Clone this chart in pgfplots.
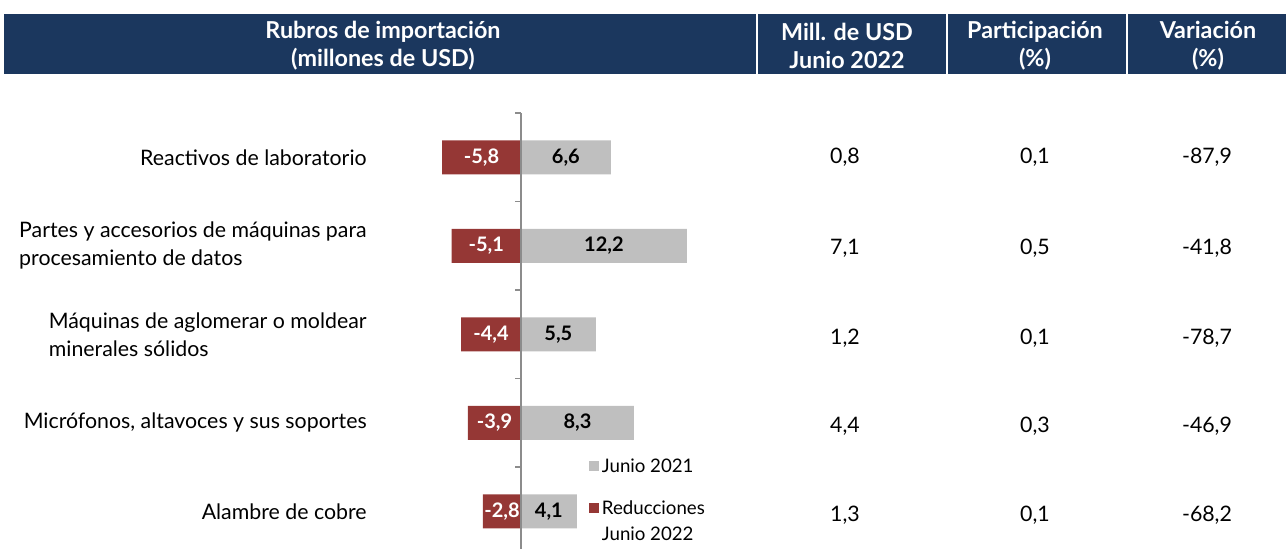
\documentclass[border=0pt]{standalone}
\usepackage{pgfplots}
\pgfplotsset{compat=1.18}
\usepackage{fontspec}
\setmainfont{Lato}
\definecolor{navy}{HTML}{1B375E}
\definecolor{barred}{HTML}{953735}
\definecolor{bargray}{HTML}{BFBFBF}
\definecolor{axgray}{HTML}{8C8C8C}
\newcommand{\txt}{\fontsize{16}{21}\selectfont}
\newcommand{\hdr}{\fontsize{17.5}{21}\selectfont\bfseries}
\begin{document}
\begin{tikzpicture}
\path[use as bounding box] (0,0) rectangle (964.5pt,412.5pt);
\begin{scope}[x=0.75pt,y=-0.75pt,yshift=412.5pt]
  \fill[navy] (4,14) rectangle (1286,74);
  \foreach \xx in {757,947,1127} \draw[white,line width=1.2pt] (\xx,14) -- (\xx,74);
  \node[white,align=center,font=\hdr] at (383,46) {Rubros de importación\\(millones de USD)};
  \node[white,align=center,font=\hdr] at (847,46) {Mill. de USD\\Junio 2022};
  \node[white,align=center,font=\hdr] at (1035,46) {Participación\\(\%)};
  \node[white,align=center,font=\hdr] at (1208,46) {Variación\\(\%)};
  \foreach \yy/\a/\b/\c in {157/{0,8}/{0,1}/{-87,9}, 248/{7,1}/{0,5}/{-41,8}, 338/{1,2}/{0,1}/{-78,7}, 426/{4,4}/{0,3}/{-46,9}, 515/{1,3}/{0,1}/{-68,2}}{
    \node[font=\txt] at (845,\yy) {\a};
    \node[font=\txt] at (1035,\yy) {\b};
    \node[font=\txt] at (1207,\yy) {\c};
  }
\end{scope}
\begin{axis}[
  at={(278.55pt,327.75pt)}, anchor=north west,
  x=10.2pt, y=66.375pt, y dir=reverse,
  xmin=-11, xmax=14, ymin=-0.5, ymax=4.43,
  xbar, bar width=25.5pt, /pgf/bar shift=0pt,
  hide x axis,
  y axis line style={draw=none},
  ytick={0,...,4}, major tick length=0pt,
  yticklabel pos=left,
  yticklabels={Reactivos de laboratorio, {Partes y accesorios de máquinas para\\procesamiento de datos}, {Máquinas de aglomerar o moldear\\minerales sólidos}, {Micrófonos, altavoces y sus soportes}, Alambre de cobre},
  yticklabel style={align=left, font=\txt},
  clip=false,
  /pgf/number format/.cd, use comma, fixed, fixed zerofill, precision=1, assume math mode=true, /pgfplots/.cd,
  visualization depends on={x \as \rawx},
  nodes near coords,
  every node near coord/.append style={anchor=center, xshift={-0.5*(\rawx)*10.2pt}, font=\fontsize{15}{16}\selectfont\bfseries},
  legend style={at={(axis cs:5.0,3.37)}, anchor=north west, draw=none, fill=none, inner sep=0pt, font=\fontsize{14}{19.5}\selectfont, cells={anchor=west, align=left}, row sep=15.75pt},
  legend image code/.code={\fill[bargray] (0pt,-3.75pt) rectangle (7.5pt,3.75pt);},
]
\addplot[fill=bargray, draw=none, every node near coord/.append style={text=black}] coordinates {(6.6,0) (12.2,1) (5.5,2) (8.3,3) (4.1,4)};
\addplot[fill=barred, draw=none, every node near coord/.append style={text=white},
  legend image code/.code={\fill[barred] (0pt,6pt) rectangle (7.5pt,13.5pt);}] coordinates {(-5.8,0) (-5.1,1) (-4.4,2) (-3.9,3) (-2.8,4)};
\legend{Junio 2021, {Reducciones\\Junio 2022}}
\draw[axgray, line width=1.2pt] (axis cs:0,-0.5) -- (axis cs:0,4.43);
\draw[axgray, line width=1pt] (axis cs:0,-0.5) -- (axis cs:-0.45,-0.5);
\draw[axgray, line width=1pt] (axis cs:0,0.5) -- (axis cs:-0.45,0.5);
\draw[axgray, line width=1pt] (axis cs:0,1.5) -- (axis cs:-0.45,1.5);
\draw[axgray, line width=1pt] (axis cs:0,2.5) -- (axis cs:-0.45,2.5);
\draw[axgray, line width=1pt] (axis cs:0,3.5) -- (axis cs:-0.45,3.5);
\end{axis}
\end{tikzpicture}
\end{document}
